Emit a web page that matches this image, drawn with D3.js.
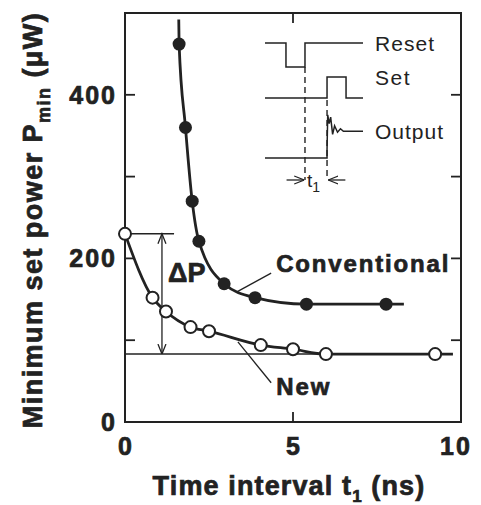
<!DOCTYPE html>
<html>
<head>
<meta charset="utf-8">
<script src="https://cdn.jsdelivr.net/npm/d3@7"></script>
<style>
  body { margin: 0; background: #fff; }
  text { font-family: "Liberation Sans", Arial, sans-serif; fill: #222; }
  text.heavy { stroke: #222; stroke-width: 0.7px; }
</style>
</head>
<body>
<svg id="chart" width="481" height="505"></svg>
<script>
// data
var convT = [1.61, 1.8, 2.0, 2.2, 2.95, 3.87, 5.4, 7.77];
var convP = [462, 360, 270, 221, 169, 152, 144, 144];
var newT = [0, 0.82, 1.22, 1.95, 2.5, 4.04, 5.0, 5.98, 9.23];
var newP = [230, 152, 135, 116, 111, 94, 89, 83, 83];
// ends of the fitted curves
var convEnds = [[1.6, 492], [8.3, 144]];
var newEnds = [[9.76, 83]];
var xTicks = [0, 5, 10];
var yTicks = [0, 200, 400];
var yMinor = [100, 300];
var deltaTop = 230, deltaBottom = 83, deltaT = 1.1;

var svg = d3.select('#chart'),
    margin = {top: 13, right: 20, bottom: 83, left: 125},
    width = +svg.attr('width') - margin.left - margin.right,
    height = +svg.attr('height') - margin.top - margin.bottom,
    g = svg.append('g').attr('transform', 'translate(' + margin.left + ',' + margin.top + ')');

var x = d3.scaleLinear().domain([0, 10]).range([0, width]);
var y = d3.scaleLinear().domain([0, 500]).range([height, 0]);

// stretch a text to a given width with letter spacing (the original face is wider)
function fit(sel, target) {
  var node = sel.node();
  var n = node.textContent.length;
  var len = node.getComputedTextLength();
  sel.attr('letter-spacing', ((target - len) / n).toFixed(2));
  return sel;
}

svg.append('defs').append('marker')
   .attr('id', 'vhead')
   .attr('viewBox', '0 0 10 10')
   .attr('refX', 10).attr('refY', 5)
   .attr('markerWidth', 10).attr('markerHeight', 10)
   .attr('markerUnits', 'userSpaceOnUse')
   .attr('orient', 'auto')
   .append('path')
   .attr('d', 'M0,1 L10,5 L0,9')
   .attr('fill', 'none').attr('stroke', '#222').attr('stroke-width', 1.3);

// frame
g.append('rect')
 .attr('width', width).attr('height', height)
 .attr('fill', 'none').attr('stroke', '#222').attr('stroke-width', 2);

// ticks, pointing inward on all four sides
var tickLen = 10;
var allY = yTicks.concat(yMinor).filter(function (d) { return d > 0; });
g.selectAll('.ytl').data(allY).enter().append('line')
 .attr('x1', 0).attr('x2', tickLen)
 .attr('y1', function (d) { return y(d); }).attr('y2', function (d) { return y(d); })
 .attr('stroke', '#222').attr('stroke-width', 1.8);
g.selectAll('.ytr').data(allY).enter().append('line')
 .attr('x1', width).attr('x2', width - tickLen)
 .attr('y1', function (d) { return y(d); }).attr('y2', function (d) { return y(d); })
 .attr('stroke', '#222').attr('stroke-width', 1.8);
g.selectAll('.xtb').data([5]).enter().append('line')
 .attr('x1', function (d) { return x(d); }).attr('x2', function (d) { return x(d); })
 .attr('y1', height).attr('y2', height - tickLen)
 .attr('stroke', '#222').attr('stroke-width', 1.8);
g.selectAll('.xtt').data([5]).enter().append('line')
 .attr('x1', function (d) { return x(d); }).attr('x2', function (d) { return x(d); })
 .attr('y1', 0).attr('y2', tickLen)
 .attr('stroke', '#222').attr('stroke-width', 1.8);

// tick labels
g.selectAll('.ylab').data(yTicks).enter().append('text')
 .attr('class', 'heavy')
 .attr('x', -8).attr('y', function (d) { return y(d); })
 .attr('dy', '0.36em').attr('text-anchor', 'end')
 .attr('font-size', 25).attr('font-weight', 'bold')
 .attr('letter-spacing', 2)
 .text(function (d) { return d; });
g.selectAll('.xlab').data(xTicks).enter().append('text')
 .attr('class', 'heavy')
 .attr('x', function (d) { return x(d) + (d === 10 ? -5 : 1); }).attr('y', height + 33)
 .attr('text-anchor', 'middle')
 .attr('font-size', 25).attr('font-weight', 'bold')
 .attr('letter-spacing', 2)
 .text(function (d) { return d; });

// axis titles
var xt = svg.append('text')
   .attr('class', 'heavy')
   .attr('x', 289).attr('y', 495)
   .attr('text-anchor', 'middle')
   .attr('font-size', 27).attr('font-weight', 'bold');
xt.append('tspan').text('Time interval  t');
xt.append('tspan').attr('font-size', 17).attr('dy', 7).text('1');
xt.append('tspan').attr('dy', -7).text(' (ns)');
fit(xt, 274);

var yt = svg.append('text')
   .attr('class', 'heavy')
   .attr('transform', 'translate(42,220) rotate(-90)')
   .attr('text-anchor', 'middle')
   .attr('font-size', 27).attr('font-weight', 'bold');
yt.append('tspan').text('Minimum set power  P');
yt.append('tspan').attr('font-size', 18).attr('dy', 8).text('min');
yt.append('tspan').attr('dy', -8).text(' (\u03bcW)');
fit(yt, 418);

// delta P bracket
g.append('line')
 .attr('x1', x(0)).attr('x2', x(1.46))
 .attr('y1', y(deltaTop)).attr('y2', y(deltaTop))
 .attr('stroke', '#222').attr('stroke-width', 1.5);
g.append('line')
 .attr('x1', x(0)).attr('x2', x(6))
 .attr('y1', y(deltaBottom)).attr('y2', y(deltaBottom))
 .attr('stroke', '#222').attr('stroke-width', 1.5);
g.append('line')
 .attr('x1', x(deltaT)).attr('x2', x(deltaT))
 .attr('y1', y(deltaTop)).attr('y2', y(deltaBottom))
 .attr('stroke', '#222').attr('stroke-width', 1.3)
 .attr('marker-end', 'url(#vhead)');
g.append('path')
 .attr('d', 'M' + (x(deltaT) - 4) + ',' + (y(deltaTop) + 10) + 'L' + x(deltaT) + ',' + y(deltaTop) + 'L' + (x(deltaT) + 4) + ',' + (y(deltaTop) + 10))
 .attr('fill', 'none').attr('stroke', '#222').attr('stroke-width', 1.3);
g.append('text')
 .attr('class', 'heavy')
 .attr('x', x(1.28)).attr('y', y(deltaTop) + 48)
 .attr('font-size', 27).attr('font-weight', 'bold')
 .text('\u0394P');

// curves
var line = d3.line()
   .x(function (d) { return x(d[0]); })
   .y(function (d) { return y(d[1]); })
   .curve(d3.curveMonotoneX);

var convPts = convT.map(function (t, i) { return [t, convP[i]]; });
var newPts = newT.map(function (t, i) { return [t, newP[i]]; });

g.append('path')
 .datum([convEnds[0]].concat(convPts).concat([convEnds[1]]))
 .attr('d', line)
 .attr('fill', 'none').attr('stroke', '#222').attr('stroke-width', 2.8);
g.append('path')
 .datum(newPts.concat(newEnds))
 .attr('d', line)
 .attr('fill', 'none').attr('stroke', '#222').attr('stroke-width', 2.8);

g.selectAll('.conv').data(convPts).enter().append('circle')
 .attr('cx', function (d) { return x(d[0]); })
 .attr('cy', function (d) { return y(d[1]); })
 .attr('r', 6.5).attr('fill', '#222');
g.selectAll('.nw').data(newPts).enter().append('circle')
 .attr('cx', function (d) { return x(d[0]); })
 .attr('cy', function (d) { return y(d[1]); })
 .attr('r', 6).attr('fill', '#fff').attr('stroke', '#222').attr('stroke-width', 2);

// series labels with leader lines
g.append('line')
 .attr('x1', x(3.33)).attr('y1', y(159))
 .attr('x2', x(4.35)).attr('y2', y(182))
 .attr('stroke', '#222').attr('stroke-width', 1.3);
fit(g.append('text')
 .attr('class', 'heavy')
 .attr('x', x(4.5)).attr('y', y(183))
 .attr('font-size', 24).attr('font-weight', 'bold')
 .text('Conventional'), 174);
g.append('line')
 .attr('x1', x(3.36)).attr('y1', y(98))
 .attr('x2', x(4.35)).attr('y2', y(48))
 .attr('stroke', '#222').attr('stroke-width', 1.3);
fit(g.append('text')
 .attr('class', 'heavy')
 .attr('x', x(4.5)).attr('y', y(33))
 .attr('font-size', 24).attr('font-weight', 'bold')
 .text('New'), 55);

// timing inset (schematic)
var ix = d3.scaleLinear().domain([0, 10]).range([265, 363]);
var reset = [[0, 1], [2.14, 1], [2.14, 0], [4.08, 0], [4.08, 1], [10, 1]];
var setW = [[0, 0], [6.33, 0], [6.33, 1], [8.27, 1], [8.27, 0], [10, 0]];
var outW = [[0, 0], [6.33, 0], [6.33, 0.2], [6.4, 1.0], [6.55, 0.8], [6.7, 0.95], [6.9, 0.55], [7.1, 0.75], [7.4, 0.6], [7.7, 0.68], [8.0, 0.62], [10, 0.62]];
var rows = [
  {name: 'Reset', w: reset, y0: 67, y1: 43, tw: 60},
  {name: 'Set', w: setW, y0: 98, y1: 77, tw: 36},
  {name: 'Output', w: outW, y0: 158, y1: 115, tw: 69}
];
rows.forEach(function (r) {
  var iy = d3.scaleLinear().domain([0, 1]).range([r.y0, r.y1]);
  svg.append('path')
     .datum(r.w)
     .attr('d', d3.line().x(function (d) { return ix(d[0]); }).y(function (d) { return iy(d[1]); }))
     .attr('fill', 'none').attr('stroke', '#222').attr('stroke-width', 1.5);
  fit(svg.append('text')
     .attr('x', 375).attr('y', (r.name === 'Output' ? iy(0.62) : iy(1)) + 8)
     .attr('font-size', 21)
     .text(r.name), r.tw);
});
svg.append('line')
   .attr('x1', ix(4.08)).attr('x2', ix(4.08)).attr('y1', 67).attr('y2', 180)
   .attr('stroke', '#222').attr('stroke-width', 1.4).attr('stroke-dasharray', '6,4');
svg.append('line')
   .attr('x1', ix(6.33)).attr('x2', ix(6.33)).attr('y1', 100).attr('y2', 180)
   .attr('stroke', '#222').attr('stroke-width', 1.4).attr('stroke-dasharray', '6,4');
svg.append('line')
   .attr('x1', ix(2.2)).attr('x2', ix(4.0)).attr('y1', 180).attr('y2', 180)
   .attr('stroke', '#222').attr('stroke-width', 1.3).attr('marker-end', 'url(#vhead)');
svg.append('line')
   .attr('x1', ix(8.2)).attr('x2', ix(6.45)).attr('y1', 180).attr('y2', 180)
   .attr('stroke', '#222').attr('stroke-width', 1.3).attr('marker-end', 'url(#vhead)');
var t1 = svg.append('text').attr('x', 307).attr('y', 187).attr('font-size', 19);
t1.append('tspan').attr('fill', '#222').text('t');
t1.append('tspan').attr('fill', '#222').attr('font-size', 14).attr('dy', 5).text('1');
</script>
</body>
</html>
